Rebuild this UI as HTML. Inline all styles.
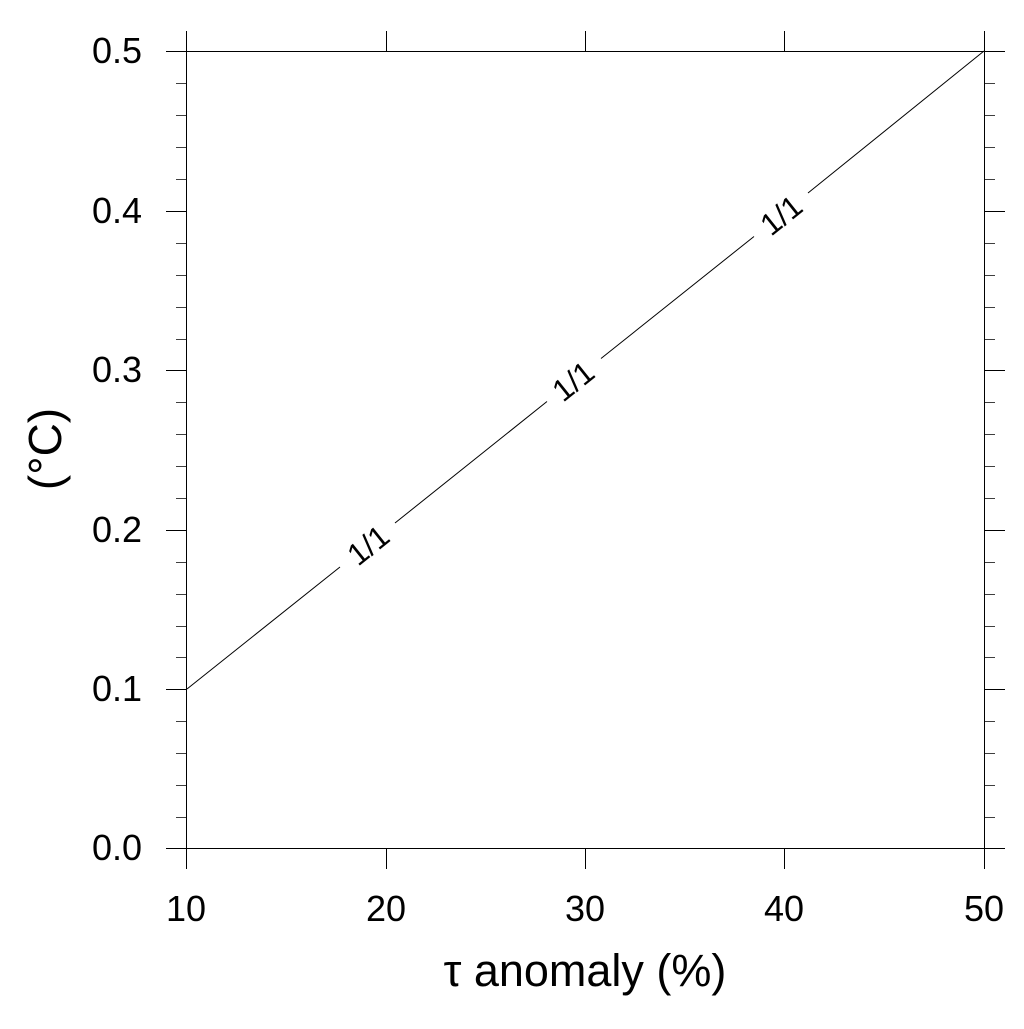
<!DOCTYPE html>
<html><head><style>html,body{margin:0;padding:0;background:#fff;}</style></head>
<body>
<svg width="1024" height="1024" xmlns="http://www.w3.org/2000/svg" font-family="Liberation Sans, sans-serif">
<g stroke="#000" stroke-width="1" fill="none">
<rect x="186.5" y="51.5" width="798" height="797"/>
</g>
<g stroke="#000" stroke-width="1">
<path d="M166 51.5H186M166 211.5H186M166 370.5H186M166 530.5H186M166 689.5H186M166 848.5H186
M985 51.5H1005M985 211.5H1005M985 370.5H1005M985 530.5H1005M985 689.5H1005M985 848.5H1005
M186.5 31V51M386.5 31V51M585.5 31V51M784.5 31V51M984.5 31V51
M186.5 849V869M386.5 849V869M585.5 849V869M784.5 849V869M984.5 849V869"/>
<path stroke-width="0.8" d="
M176 83.5H186M176 115.5H186M176 147.5H186M176 179.5H186
M176 243.5H186M176 275.5H186M176 307.5H186M176 339.5H186
M176 402.5H186M176 434.5H186M176 466.5H186M176 498.5H186
M176 562.5H186M176 594.5H186M176 626.5H186M176 657.5H186
M176 721.5H186M176 753.5H186M176 785.5H186M176 817.5H186
M985 83.5H995M985 115.5H995M985 147.5H995M985 179.5H995
M985 243.5H995M985 275.5H995M985 307.5H995M985 339.5H995
M985 402.5H995M985 434.5H995M985 466.5H995M985 498.5H995
M985 562.5H995M985 594.5H995M985 626.5H995M985 657.5H995
M985 721.5H995M985 753.5H995M985 785.5H995M985 817.5H995"/>
<path d="M187 689L340 567M395 523L547 401.5M601 358.5L754 236.5M808 193L984 51"/>
</g>
<g font-size="36" fill="#000" text-anchor="end">
<text x="142" y="63">0.5</text>
<text x="142" y="223">0.4</text>
<text x="142" y="382">0.3</text>
<text x="142" y="542">0.2</text>
<text x="142" y="701">0.1</text>
<text x="142" y="860">0.0</text>
</g>
<g font-size="36" fill="#000" text-anchor="middle">
<text x="186" y="921">10</text>
<text x="386" y="921">20</text>
<text x="585" y="921">30</text>
<text x="784" y="921">40</text>
<text x="984" y="921">50</text>
<text x="585" y="986" font-size="45">τ anomaly (%)</text>
<text transform="translate(61,449) rotate(-90)" font-size="46">(°C)</text>
</g>
<g font-size="31" fill="#000" text-anchor="middle">
<text transform="translate(368,545) rotate(-38.7)" y="11">1/1</text>
<text transform="translate(573,381) rotate(-38.7)" y="11">1/1</text>
<text transform="translate(781,215) rotate(-38.7)" y="11">1/1</text>
</g>
</svg>
</body></html>
